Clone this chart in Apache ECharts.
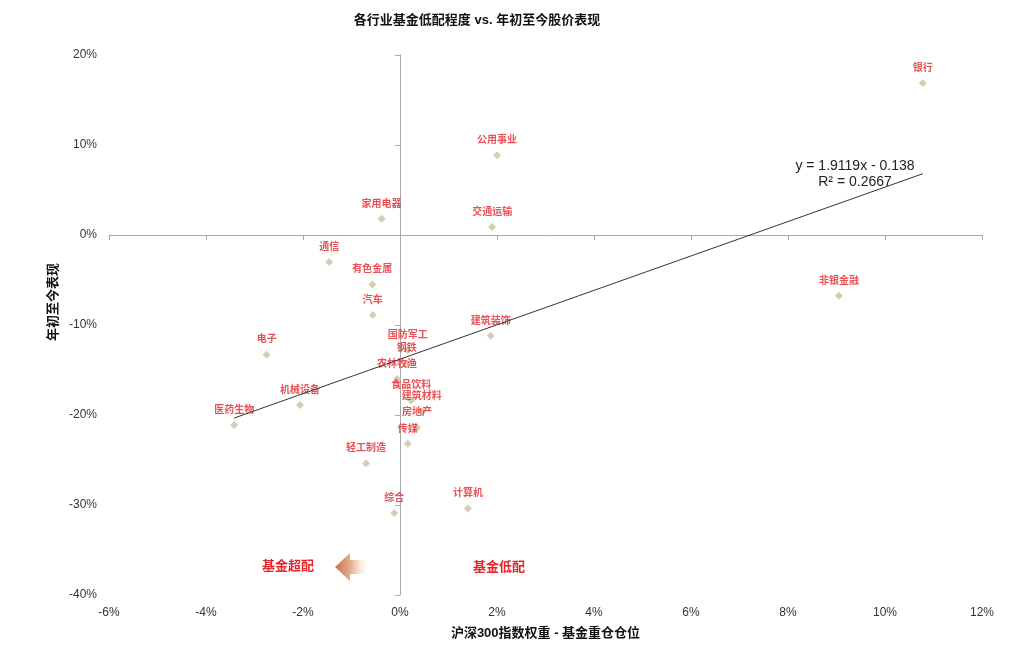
<!DOCTYPE html>
<html>
<head>
<meta charset="utf-8">
<title>各行业基金低配程度 vs. 年初至今股价表现</title>
<script src="https://cdn.jsdelivr.net/npm/echarts@6/dist/echarts.min.js"></script>
<style>
  html, body { margin: 0; padding: 0; background: #fff; }
  #chart { width: 1024px; height: 645px; }
</style>
</head>
<body>
<div id="chart"></div>
<script>
// === Data (percent) === //
const industries = ['银行', '公用事业', '交通运输', '家用电器', '通信', '有色金属', '汽车', '非银金融', '建筑装饰', '电子',
  '国防军工', '钢铁', '农林牧渔', '食品饮料', '建筑材料', '房地产', '传媒', '机械设备', '医药生物', '轻工制造', '综合', '计算机']
const weightGap = [10.78, 2.0, 1.9, -0.38, -1.46, -0.57, -0.56, 9.05, 1.87, -2.75,
  0.16, 0.14, -0.06, 0.23, 0.45, 0.35, 0.16, -2.06, -3.42, -0.7, -0.12, 1.4]
const ytdReturn = [16.9, 8.85, 0.9, 1.8, -3.0, -5.5, -8.9, -6.75, -11.2, -13.3,
  -12.8, -14.3, -16.0, -18.4, -19.6, -21.4, -23.2, -18.9, -21.1, -25.4, -30.9, -30.4]
const xTicks = { min: -6, max: 12, interval: 2 }
const yTicks = { min: -40, max: 20, interval: 10 }
const trend = { slope: 1.9119, intercept: -13.8 } // y = 1.9119x - 0.138

const font = '"Liberation Sans", "Noto Sans CJK SC", sans-serif'
const red = '#e3262b'

const points = weightGap.map((x, i) => [x, ytdReturn[i], industries[i]])
const xLo = Math.min(...weightGap)
const xHi = Math.max(...weightGap)
const trendLine = [xLo, xHi].map(x => [x, trend.slope * x + trend.intercept])

const myChart = echarts.init(document.getElementById('chart'))

const option = {
  backgroundColor: '#fff',
  textStyle: { fontFamily: font },
  animation: false,
  title: {
    text: '各行业基金低配程度 vs. 年初至今股价表现',
    left: 472,
    top: 9,
    textAlign: 'center',
    textStyle: { fontSize: 13, fontWeight: 'bold', color: '#111', fontFamily: font }
  },
  grid: { left: 109, right: 42, top: 55, bottom: 50 },
  xAxis: [
    {
      type: 'value',
      ...xTicks,
      position: 'bottom',
      axisLine: { show: false, onZero: false },
      axisTick: { show: false },
      splitLine: { show: false },
      axisLabel: { formatter: '{value}%', margin: 12, fontSize: 12, color: '#333' },
      name: '沪深300指数权重 - 基金重仓仓位',
      nameLocation: 'middle',
      nameGap: 32,
      nameTextStyle: { fontSize: 13, fontWeight: 'bold', color: '#111' }
    },
    {
      type: 'value',
      ...xTicks,
      position: 'top',
      axisLine: { onZero: true, lineStyle: { color: '#a8a8a8', width: 1 } },
      axisTick: { show: true, inside: true, length: 5, lineStyle: { color: '#a8a8a8' } },
      axisLabel: { show: false },
      splitLine: { show: false }
    }
  ],
  yAxis: [
    {
      type: 'value',
      ...yTicks,
      position: 'left',
      axisLine: { show: false, onZero: false },
      axisTick: { show: false },
      splitLine: { show: false },
      axisLabel: { formatter: '{value}%', margin: 12, fontSize: 12, color: '#333' }
    },
    {
      type: 'value',
      ...yTicks,
      position: 'right',
      axisLine: { onZero: true, lineStyle: { color: '#a8a8a8', width: 1 } },
      axisTick: { show: true, inside: true, length: 5, lineStyle: { color: '#a8a8a8' } },
      axisLabel: { show: false },
      splitLine: { show: false }
    }
  ],
  graphic: [
    {
      type: 'text',
      x: 53,
      y: 302,
      rotation: Math.PI / 2,
      style: { text: '年初至今表现', fontSize: 13, fontWeight: 'bold', fill: '#111', fontFamily: font, align: 'center', verticalAlign: 'middle' }
    },
    {
      type: 'text',
      x: 855,
      y: 166,
      style: { text: 'y = 1.9119x - 0.138', fontSize: 14, fill: '#222', fontFamily: font, align: 'center', verticalAlign: 'middle' }
    },
    {
      type: 'text',
      x: 855,
      y: 182,
      style: { text: 'R² = 0.2667', fontSize: 14, fill: '#222', fontFamily: font, align: 'center', verticalAlign: 'middle' }
    },
    {
      type: 'text',
      x: 288,
      y: 566,
      style: { text: '基金超配', fontSize: 13, fontWeight: 'bold', fill: red, fontFamily: font, align: 'center', verticalAlign: 'middle' }
    },
    {
      type: 'text',
      x: 499,
      y: 567,
      style: { text: '基金低配', fontSize: 13, fontWeight: 'bold', fill: red, fontFamily: font, align: 'center', verticalAlign: 'middle' }
    },
    {
      type: 'polygon',
      shape: { points: [[335, 567], [350, 553], [350, 560], [369, 560], [369, 574], [350, 574], [350, 581]] },
      style: {
        fill: new echarts.graphic.LinearGradient(0, 0, 1, 0, [
          { offset: 0, color: '#c9714a' },
          { offset: 0.5, color: '#eab494' },
          { offset: 1, color: 'rgba(255,255,255,0.2)' }
        ])
      }
    }
  ],
  series: [
    {
      type: 'line',
      data: trendLine,
      xAxisIndex: 0,
      yAxisIndex: 0,
      symbol: 'none',
      silent: true,
      lineStyle: { color: '#333', width: 1 },
      z: 3
    },
    {
      type: 'scatter',
      data: points,
      xAxisIndex: 0,
      yAxisIndex: 0,
      symbol: 'diamond',
      symbolSize: 8,
      itemStyle: { color: '#cdc1a3' },
      label: {
        show: true,
        position: 'top',
        distance: 6,
        formatter: p => p.data[2],
        fontSize: 10,
        fontWeight: 'bold',
        color: red,
        fontFamily: font
      },
      labelLayout: { hideOverlap: false },
      z: 2
    }
  ]
}

myChart.setOption(option)
</script>
</body>
</html>
